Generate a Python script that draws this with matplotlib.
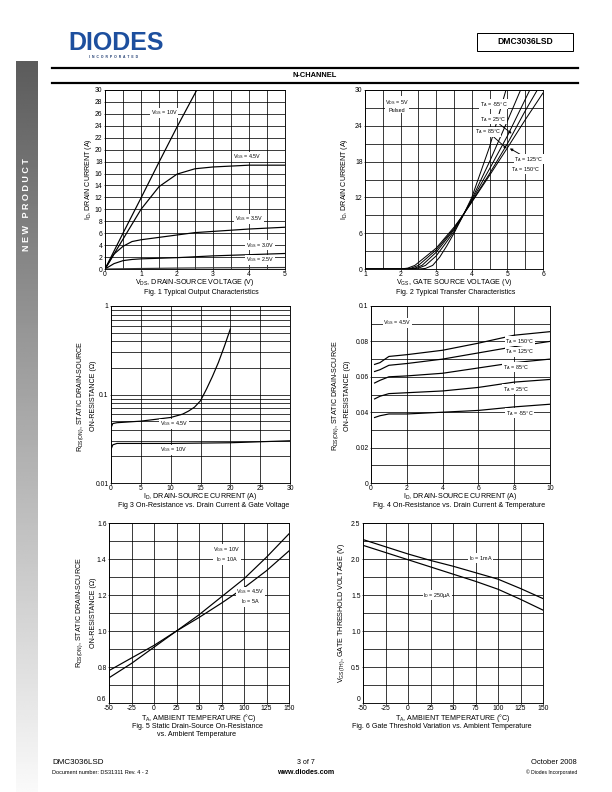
import numpy as np
import matplotlib
matplotlib.use('Agg')
import matplotlib.pyplot as plt
from matplotlib.lines import Line2D
from matplotlib.patches import Rectangle
from matplotlib.ticker import MultipleLocator, FixedLocator, FixedFormatter, NullFormatter

plt.rcParams['font.family'] = ['Liberation Sans', 'DejaVu Sans']
plt.rcParams['mathtext.fontset'] = 'custom'
plt.rcParams['mathtext.rm'] = 'Liberation Sans'
plt.rcParams['mathtext.it'] = 'Liberation Sans:italic'
plt.rcParams['mathtext.bf'] = 'Liberation Sans:bold'
plt.rcParams['axes.unicode_minus'] = False

# ---- Fig 1: output characteristics (VDS, ID) ----
vds_10 = [0, 0.5, 1.0, 1.5, 2.0, 2.55]
id_10 = [0, 6.0, 11.9, 17.9, 23.8, 30]
vds_45 = [0, 0.5, 1.0, 1.5, 2.0, 2.5, 3.0, 4.0, 5.0]
id_45 = [0, 5.0, 10.0, 13.8, 15.9, 16.8, 17.1, 17.4, 17.4]
vds_35 = [0, 0.25, 0.5, 0.75, 1.0, 1.5, 2.0, 2.5, 3.0, 4.0, 5.0]
id_35 = [0, 2.5, 3.8, 4.6, 4.9, 5.3, 5.7, 6.1, 6.3, 6.7, 7.0]
vds_30 = [0, 0.25, 0.5, 0.75, 1.0, 2.0, 3.0, 4.0, 5.0]
id_30 = [0, 0.9, 1.4, 1.6, 1.7, 1.9, 2.2, 2.4, 2.6]
vds_25 = [0, 1.0, 2.0, 3.0, 4.0, 5.0]
id_25 = [0, 0.08, 0.15, 0.2, 0.22, 0.25]

# ---- Fig 2: transfer characteristics (VGS, ID) per temperature ----
vgs_m55 = [1, 2.5, 2.7, 2.9, 3.1, 3.3, 3.5, 3.75, 4.0, 4.5, 4.96]
id_m55 = [0, 0, 0.1, 0.6, 2.0, 3.9, 6.0, 8.9, 12.0, 20.5, 30]
vgs_25c = [1, 2.3, 2.5, 2.7, 3.0, 3.25, 3.5, 3.75, 4.0, 4.5, 5.0, 5.37]
id_25c = [0, 0, 0.15, 0.6, 2.2, 4.2, 6.3, 8.9, 11.7, 18.0, 24.8, 30]
vgs_85 = [1, 2.2, 2.4, 2.6, 3.0, 3.5, 3.75, 4.0, 4.5, 5.0, 5.63]
id_85 = [0, 0, 0.15, 0.6, 2.8, 6.6, 9.0, 11.5, 16.8, 22.3, 30]
vgs_125 = [1, 2.1, 2.3, 2.5, 3.0, 3.5, 3.75, 4.0, 4.5, 5.0, 5.5, 5.84]
id_125 = [0, 0, 0.15, 0.6, 3.2, 6.8, 9.0, 11.3, 16.0, 21.0, 26.5, 30]
vgs_150 = [1, 2.0, 2.2, 2.4, 3.0, 3.5, 3.75, 4.0, 4.5, 5.0, 5.5, 6.0]
id_150 = [0, 0, 0.15, 0.6, 3.5, 7.0, 9.0, 11.2, 15.7, 20.3, 25.0, 29.5]

# ---- Fig 3: RDS(on) vs ID and VGS ----
id3_45 = [0, 0.3, 1, 5, 10, 12, 13, 14, 15, 16, 17, 18, 19, 20]
rds3_45 = [0.042, 0.047, 0.048, 0.050, 0.055, 0.060, 0.065, 0.072, 0.085,
           0.115, 0.16, 0.23, 0.35, 0.55]
id3_10 = [0, 0.3, 1, 10, 20, 30]
rds3_10 = [0.024, 0.027, 0.028, 0.028, 0.0285, 0.030]

# ---- Fig 4: RDS(on) vs ID and temperature ----
id4 = [0.2, 0.5, 1, 2, 4, 6, 8, 10]
rds4_150 = [0.067, 0.068, 0.0715, 0.0725, 0.075, 0.079, 0.0835, 0.0855]
rds4_125 = [0.063, 0.064, 0.0665, 0.0675, 0.070, 0.0735, 0.077, 0.080]
rds4_85 = [0.0565, 0.058, 0.060, 0.0605, 0.062, 0.065, 0.068, 0.070]
rds4_25 = [0.0475, 0.049, 0.0505, 0.051, 0.052, 0.054, 0.057, 0.0585]
rds4_m55 = [0.037, 0.038, 0.039, 0.039, 0.040, 0.041, 0.043, 0.0445]

# ---- Fig 5 / Fig 6: vs ambient temperature ----
ta = [-50, -25, 0, 25, 50, 75, 100, 125, 150]
rn_10v = [0.74, 0.82, 0.91, 1.0, 1.09, 1.19, 1.29, 1.41, 1.54]
rn_45v = [0.78, 0.85, 0.92, 1.0, 1.075, 1.155, 1.24, 1.335, 1.445]
vth_1ma = [2.27, 2.17, 2.07, 1.98, 1.90, 1.81, 1.72, 1.59, 1.45]
vth_250ua = [2.19, 2.09, 1.99, 1.89, 1.79, 1.69, 1.58, 1.44, 1.29]

W, H = 612, 792
fig = plt.figure(figsize=(W / 72, H / 72), dpi=72)
fig.patch.set_facecolor('white')


def fx(x):
    return x / W


def fy(y):
    return 1 - y / H


def ptext(x, y, s, **kw):
    kw.setdefault('ha', 'center')
    kw.setdefault('va', 'center')
    fig.text(fx(x), fy(y), s, **kw)


def hline(x0, x1, y, lw):
    fig.add_artist(Line2D([fx(x0), fx(x1)], [fy(y), fy(y)], color='black',
                          lw=lw, transform=fig.transFigure))


def make_axes(x0, y0, x1, y1):
    ax = fig.add_axes([fx(x0), fy(y1), (x1 - x0) / W, (y1 - y0) / H])
    for s in ax.spines.values():
        s.set_linewidth(0.9)
    ax.tick_params(which='both', labelsize=6.8, pad=0.6, length=1.5, width=0.6,
                   direction='out')
    ax.tick_params(axis='y', pad=1.0)
    ax.tick_params(which='minor', length=0)
    ax.grid(which='both', color='black', lw=0.75)
    ax.set_axisbelow(True)
    return ax


LFS = 5.4
BOX = dict(facecolor='white', edgecolor='none', pad=0.6)


def label(ax, x, y, s, **kw):
    ax.text(x, y, s, fontsize=LFS, ha='center', va='center', bbox=BOX, **kw)


LW = 1.2
FS = 7.1

# ---- page decoration ----
side = fig.add_axes([fx(16), 0, 21 / W, 1 - 61 / H])
side.imshow(np.linspace(0.36, 0.98, 300)[:, None], cmap='gray', vmin=0, vmax=1,
            aspect='auto', extent=[0, 1, 0, 1])
side.axis('off')
ptext(26.5, 205, 'N E W   P R O D U C T', color='white', fontsize=9,
      fontweight='bold', rotation=90)

ptext(116, 43, 'DIODES', color='#1d4f9e', fontsize=25, fontweight='bold')
ptext(114, 57.5, 'I  N  C  O  R  P  O  R  A  T  E  D', color='#1d3a70',
      fontsize=3.4, fontweight='bold')

fig.add_artist(Rectangle((fx(477), fy(50.7)), 96 / W, 17.4 / H, fill=False,
                         edgecolor='black', lw=1.0, transform=fig.transFigure))
ptext(525, 42, 'DMC3036LSD', fontsize=8.5, fontweight='bold')

hline(52, 578, 68.3, 2.2)
hline(52, 578, 82.7, 2.2)
ptext(315, 75.5, 'N-CHANNEL', fontsize=7.5, fontweight='bold')

ptext(52, 763, 'DMC3036LSD', fontsize=8, ha='left')
ptext(52, 772.5, 'Document number: DS31311 Rev. 4 - 2', fontsize=5.5, ha='left')
ptext(306, 763, '3 of 7', fontsize=7)
ptext(306, 772.5, 'www.diodes.com', fontsize=7, fontweight='bold')
ptext(577, 763, 'October 2008', fontsize=7.5, ha='right')
ptext(577, 772.5, '\u00a9 Diodes Incorporated', fontsize=5, ha='right')

# ---- Fig 1 ----
ax1 = make_axes(105, 90, 285, 269)
ax1.plot(vds_10, id_10, color='black', lw=LW)
ax1.plot(vds_45, id_45, color='black', lw=LW)
ax1.plot(vds_35, id_35, color='black', lw=LW)
ax1.plot(vds_30, id_30, color='black', lw=LW)
ax1.plot(vds_25, id_25, color='#333333', lw=LW)
ax1.set_xlim(0, 5)
ax1.set_ylim(0, 30)
ax1.xaxis.set_major_locator(MultipleLocator(1))
ax1.xaxis.set_minor_locator(MultipleLocator(0.5))
ax1.yaxis.set_major_locator(MultipleLocator(2))
label(ax1, 1.65, 26.2, r'$\mathregular{V_{GS}}$ = 10V')
label(ax1, 3.96, 18.8, r'$\mathregular{V_{GS}}$ = 4.5V')
label(ax1, 4.0, 8.4, r'$\mathregular{V_{GS}}$ = 3.5V')
label(ax1, 4.3, 4.0, r'$\mathregular{V_{GS}}$ = 3.0V')
label(ax1, 4.3, 1.5, r'$\mathregular{V_{GS}}$ = 2.5V')
ptext(88, 179.5, r'$\mathregular{I_D}$, DRAIN CURRENT (A)', fontsize=FS,
      rotation=90)
ptext(195, 282.5, r'$\mathregular{V_{DS}}$, DRAIN-SOURCE VOLTAGE (V)', fontsize=FS)
ptext(201, 292.5, 'Fig. 1 Typical Output Characteristics', fontsize=FS)

# ---- Fig 2 ----
ax2 = make_axes(365, 90, 543, 269)
for xv, yv in [(vgs_m55, id_m55), (vgs_25c, id_25c), (vgs_85, id_85),
               (vgs_125, id_125), (vgs_150, id_150)]:
    ax2.plot(xv, yv, color='black', lw=1.0)
ax2.set_xlim(1, 6)
ax2.set_ylim(0, 30)
ax2.xaxis.set_major_locator(MultipleLocator(1))
ax2.xaxis.set_minor_locator(MultipleLocator(0.5))
ax2.yaxis.set_major_locator(MultipleLocator(6))
ax2.yaxis.set_minor_locator(MultipleLocator(3))
ax2.text(1.9, 27.4, r'$\mathregular{V_{DS}}$ = 5V' + '\nPulsed', fontsize=LFS,
         ha='center', va='center', linespacing=1.2, bbox=BOX)
label(ax2, 4.62, 27.6, r'$\mathregular{T_A}$ = -55°C')
arrow = dict(arrowstyle='-|>', color='black', lw=0.9, mutation_scale=5,
             shrinkA=0, shrinkB=0)
ax2.annotate(r'$\mathregular{T_A}$ = 25°C', xy=(5.12, 22.7), xytext=(4.6, 25.1),
             fontsize=LFS, ha='center', va='center', arrowprops=arrow, bbox=BOX)
ax2.annotate(r'$\mathregular{T_A}$ = 85°C', xy=(4.98, 20.2), xytext=(4.45, 23.0),
             fontsize=LFS, ha='center', va='center', arrowprops=arrow, bbox=BOX)
ax2.annotate(r'$\mathregular{T_A}$ = 125°C', xy=(5.07, 20.2), xytext=(5.6, 18.4),
             fontsize=LFS, ha='center', va='center', arrowprops=arrow, bbox=BOX)
label(ax2, 5.5, 16.7, r'$\mathregular{T_A}$ = 150°C')
ptext(345, 179.5, r'$\mathregular{I_D}$, DRAIN CURRENT (A)', fontsize=FS,
      rotation=90)
ptext(454, 282.5, r'$\mathregular{V_{GS}}$, GATE SOURCE VOLTAGE (V)', fontsize=FS)
ptext(456, 292.5, 'Fig. 2 Typical Transfer Characteristics', fontsize=FS)

# ---- Fig 3 ----
ax3 = make_axes(111, 306, 290, 483)
ax3.plot(id3_45, rds3_45, color='black', lw=LW)
ax3.plot(id3_10, rds3_10, color='black', lw=LW)
ax3.set_yscale('log')
ax3.set_xlim(0, 30)
ax3.set_ylim(0.01, 1)
ax3.xaxis.set_major_locator(MultipleLocator(5))
ax3.yaxis.set_major_locator(FixedLocator([0.01, 0.1, 1]))
ax3.yaxis.set_major_formatter(FixedFormatter(['0.01', '0.1', '1']))
ax3.yaxis.set_minor_locator(FixedLocator([k * 0.01 for k in range(2, 10)] +
                                         [k * 0.1 for k in range(2, 10)]))
ax3.yaxis.set_minor_formatter(NullFormatter())
ax3.tick_params(which='minor', length=0)
label(ax3, 10.6, 0.0465, r'$\mathregular{V_{GS}}$ = 4.5V')
label(ax3, 10.4, 0.0236, r'$\mathregular{V_{GS}}$ = 10V')
ptext(80.7, 396, r'$\mathregular{R_{DS(ON)}}$, STATIC DRAIN-SOURCE', fontsize=FS,
      rotation=90)
ptext(93.3, 396, 'ON-RESISTANCE (\u03a9)', fontsize=FS, rotation=90)
ptext(200, 497, r'$\mathregular{I_D}$, DRAIN-SOURCE CURRENT (A)', fontsize=FS)
ptext(204, 505.5, 'Fig 3 On-Resistance vs. Drain Current & Gate Voltage',
      fontsize=FS)

# ---- Fig 4 ----
ax4 = make_axes(371, 306, 550, 483)
for yv in [rds4_150, rds4_125, rds4_85, rds4_25, rds4_m55]:
    ax4.plot(id4, yv, color='black', lw=LW)
ax4.set_xlim(0, 10)
ax4.set_ylim(0, 0.1)
ax4.xaxis.set_major_locator(MultipleLocator(2))
ax4.yaxis.set_major_locator(FixedLocator([0, 0.02, 0.04, 0.06, 0.08, 0.1]))
ax4.yaxis.set_major_formatter(FixedFormatter(['0', '0.02', '0.04', '0.06',
                                              '0.08', '0.1']))
ax4.yaxis.set_minor_locator(MultipleLocator(0.01))
label(ax4, 1.48, 0.0906, r'$\mathregular{V_{GS}}$ = 4.5V')
label(ax4, 8.3, 0.0800, r'$\mathregular{T_A}$ = 150°C')
label(ax4, 8.3, 0.0742, r'$\mathregular{T_A}$ = 125°C')
label(ax4, 8.1, 0.0653, r'$\mathregular{T_A}$ = 85°C')
label(ax4, 8.1, 0.0530, r'$\mathregular{T_A}$ = 25°C')
label(ax4, 8.3, 0.0394, r'$\mathregular{T_A}$ = -55°C')
ptext(336, 396, r'$\mathregular{R_{DS(ON)}}$, STATIC DRAIN-SCURCE', fontsize=FS,
      rotation=90)
ptext(347.5, 396, 'ON-RESISTANCE (\u03a9)', fontsize=FS, rotation=90)
ptext(460, 497, r'$\mathregular{I_D}$, DRAIN-SOURCE CURRENT (A)', fontsize=FS)
ptext(459, 505.5, 'Fig. 4 On-Resistance vs. Drain Current & Temperature',
      fontsize=FS)

# ---- Fig 5 ----
ax5 = make_axes(109, 523, 289, 703)
ax5.plot(ta, rn_10v, color='black', lw=LW)
ax5.plot(ta, rn_45v, color='black', lw=LW)
ax5.set_xlim(-50, 150)
ax5.set_ylim(0.6, 1.6)
ax5.xaxis.set_major_locator(MultipleLocator(25))
ax5.yaxis.set_major_locator(FixedLocator([0.6, 0.8, 1.0, 1.2, 1.4, 1.6]))
ax5.yaxis.set_major_formatter(FixedFormatter(['0.6', '0.8', '1.0', '1.2',
                                              '1.4', '1.6']))
ax5.yaxis.set_minor_locator(MultipleLocator(0.1))
ax5.text(81, 1.425, r'$\mathregular{V_{GS}}$ = 10V' + '\n' +
         r'$\mathregular{I_D}$ = 10A', fontsize=LFS, ha='center', va='center',
         linespacing=1.2, bbox=BOX)
ax5.text(107, 1.19, r'$\mathregular{V_{GS}}$ = 4.5V' + '\n' +
         r'$\mathregular{I_D}$ = 5A', fontsize=LFS, ha='center', va='center',
         linespacing=1.2, bbox=BOX)
ptext(79.3, 613, r'$\mathregular{R_{DS(ON)}}$, STATIC DRAIN-SCURCE', fontsize=FS,
      rotation=90)
ptext(93.3, 613, 'ON-RESISTANCE (\u03a9)', fontsize=FS, rotation=90)
ptext(199, 718, r'$\mathregular{T_A}$, AMBIENT TEMPERATURE (°C)', fontsize=FS)
ptext(197, 726.5, 'Fig. 5 Static Drain-Source On-Resistance', fontsize=FS)
ptext(197, 734.5, 'vs. Ambient Temperature', fontsize=FS)

# ---- Fig 6 ----
ax6 = make_axes(363, 523, 543, 703)
ax6.plot(ta, vth_1ma, color='black', lw=LW)
ax6.plot(ta, vth_250ua, color='black', lw=LW)
ax6.set_xlim(-50, 150)
ax6.set_ylim(0, 2.5)
ax6.xaxis.set_major_locator(MultipleLocator(25))
ax6.yaxis.set_major_locator(FixedLocator([0, 0.5, 1.0, 1.5, 2.0, 2.5]))
ax6.yaxis.set_major_formatter(FixedFormatter(['0', '0.5', '1.0', '1.5',
                                              '2.0', '2.5']))
ax6.yaxis.set_minor_locator(MultipleLocator(0.25))
label(ax6, 80.6, 2.01, r'$\mathregular{I_D}$ = 1mA')
label(ax6, 32.8, 1.50, r'$\mathregular{I_D}$ = 250µA')
ptext(341.7, 613, r'$\mathregular{V_{GS(TH)}}$, GATE THRESHOLD VOLTAGE (V)',
      fontsize=FS, rotation=90)
ptext(453, 718, r'$\mathregular{T_A}$, AMBIENT TEMPERATURE (°C)', fontsize=FS)
ptext(442, 726.5, 'Fig. 6 Gate Threshold Variation vs. Ambient Temperature',
      fontsize=FS)

# bottom y labels sit just above the corner, as on the datasheet
fig.canvas.draw()
for ax in (ax5, ax6):
    ax.yaxis.get_major_ticks()[0].label1.set_va('bottom')

fig.savefig('out.png', dpi=72, facecolor='white')
